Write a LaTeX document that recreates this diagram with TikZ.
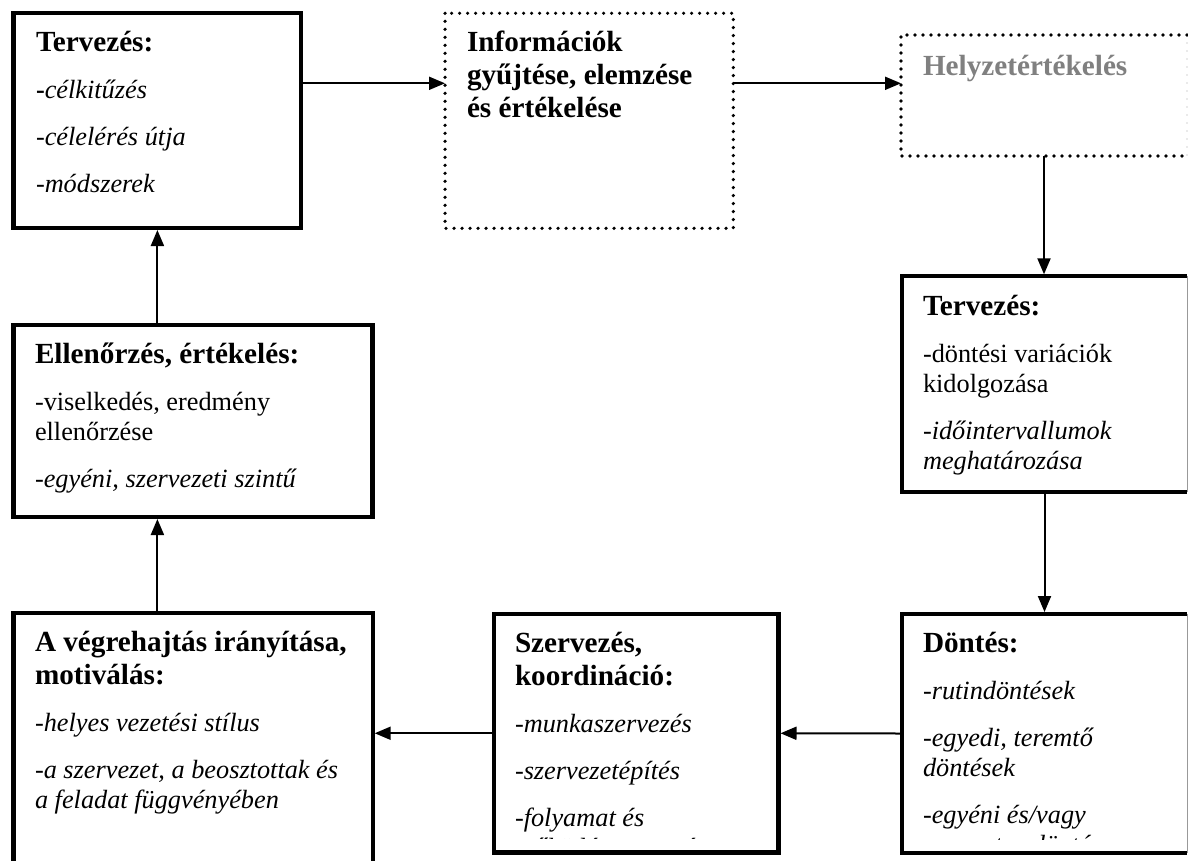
\documentclass[tikz,border=0pt]{standalone}
\usepackage{fontspec}
\setmainfont{Liberation Serif}
\usetikzlibrary{arrows.meta,calc}

% type sizes: bold headings and body lines
\newcommand\headfont{\fontsize{29.2}{33}\selectfont\bfseries}
\newcommand\bodyfont{\fontsize{26.3}{30}\selectfont}
\newcommand\hdline[1]{{\headfont #1\par}}
\newenvironment{boxtext}{\begin{minipage}[t]{330pt}\raggedright\setlength\parskip{17pt}\bodyfont}{\end{minipage}}

\tikzset{
  box/.style={rectangle, draw=none, inner sep=0pt, outer sep=0pt},
  frame/.style={line width=4.2pt, line join=miter},
  dotframe/.style={line width=3.6pt, line cap=round, dash pattern=on 0pt off 8pt},
  cutedge/.style={line width=1pt, draw=black!40},
  cutdots/.style={line width=1.2pt, draw=black!35, line cap=round, dash pattern=on 0pt off 8pt},
  conn/.style={line width=2pt, -{Triangle[length=16pt,width=13pt]}},
  txt/.style={anchor=base west, inner sep=0pt, outer sep=0pt},
}

\begin{document}
\begin{tikzpicture}[x=1pt,y=-1pt]
\useasboundingbox (0,0) rectangle (1188,860);
\clip (0,0) rectangle (1188,860);
\fill[white] (0,0) rectangle (1188,860);

% ---- boxes (borders drawn on the node outlines) ----
\node[box, minimum width=287.8pt, minimum height=215.3pt] (plan)   at (157.4,120.35) {};
\node[box, minimum width=288.3pt, minimum height=215pt]   (info)   at (589.15,120.8) {};
\node[box, minimum width=286pt,   minimum height=121pt]   (situ)   at (1044,95.5) {};
\node[box, minimum width=285pt,   minimum height=215.4pt] (plantwo) at (1044.5,384) {};
\node[box, minimum width=285pt,   minimum height=239pt]   (decide) at (1044.5,733.5) {};
\node[box, minimum width=284.8pt, minimum height=238.5pt] (org)    at (636.1,733.25) {};
\node[box, minimum width=359.2pt, minimum height=267.3pt] (lead)   at (193.1,746.35) {};
\node[box, minimum width=359pt,   minimum height=191.7pt] (ctrl)   at (193,421.15) {};

\draw[frame] (plan.north west) rectangle (plan.south east);
\draw[frame] (ctrl.north west) rectangle (ctrl.south east);
\draw[frame] (org.north west) rectangle (org.south east);
\draw[frame] (lead.south west) -- (lead.north west) -- (lead.north east) -- (lead.south east);
\draw[dotframe] (info.north west) rectangle (info.south east);

\draw[cutdots] (situ.north east) -- (situ.south east);
\draw[dotframe] (situ.north east) -- (situ.north west) -- (situ.south west) -- (situ.south east);

\draw[cutedge] (plantwo.north east) -- (plantwo.south east);
\draw[frame] (plantwo.north east) -- (plantwo.north west) -- (plantwo.south west) -- (plantwo.south east);
\draw[cutedge] (decide.north east) -- (decide.south east);
\draw[frame] (decide.north east) -- (decide.north west) -- (decide.south west) -- (decide.south east);

% ---- texts ----
\node[txt] (plantext) at ([xshift=22.5pt,yshift=-38.5pt]plan.north west) {\begin{boxtext}
\hdline{Tervezés:}
{\bfseries -}\textit{célkitűzés}\par
\textit{-célelérés útja}\par
\textit{-módszerek}\par
\end{boxtext}};

\node[txt] (infotext) at ([xshift=22pt,yshift=-38.5pt]info.north west) {\begin{boxtext}
\hdline{Információk\\gyűjtése, elemzése\\és értékelése}
\end{boxtext}};

\node[txt, text=black!50] (situtext) at ([xshift=22pt,yshift=-40pt]situ.north west) {\begin{boxtext}
\hdline{Helyzetértékelés}
\end{boxtext}};

\node[txt] (plantwotext) at ([xshift=21pt,yshift=-38.7pt]plantwo.north west) {\begin{boxtext}
\hdline{Tervezés:}
-döntési variációk\\kidolgozása\par
\textit{-időintervallumok\\meghatározása}\par
\end{boxtext}};

\begin{scope}
\clip (decide.north west) rectangle ([yshift=14pt]decide.south east);
\node[txt] (decidetext) at ([xshift=21pt,yshift=-38.5pt]decide.north west) {\begin{boxtext}
\hdline{Döntés:}
\textit{-rutindöntések}\par
\textit{-egyedi, teremtő\\döntések}\par
\textit{-egyéni és/vagy\\csoportos döntés}\par
\end{boxtext}};
\end{scope}

\begin{scope}
\clip (org.north west) rectangle ([yshift=14pt]org.south east);
\node[txt] (orgtext) at ([xshift=21.3pt,yshift=-38.5pt]org.north west) {\begin{boxtext}
\hdline{Szervezés,\\koordináció:}
\textit{-munkaszervezés}\par
\textit{-szervezetépítés}\par
\textit{-folyamat és\\működésszervezés}\par
\end{boxtext}};
\end{scope}

\node[txt] (leadtext) at ([xshift=21.5pt,yshift=-39pt]lead.north west) {\begin{boxtext}
\hdline{A végrehajtás irányítása,\\motiválás:}
\textit{-helyes vezetési stílus}\par
\textit{-a szervezet, a beosztottak és\\a feladat függvényében}\par
\end{boxtext}};

\node[txt] (ctrltext) at ([xshift=21.5pt,yshift=-38pt]ctrl.north west) {\begin{boxtext}
\hdline{Ellenőrzés, értékelés:}
-viselkedés, eredmény\\ellenőrzése\par
\textit{-egyéni, szervezeti szintű}\par
\end{boxtext}};

% ---- connectors ----
\coordinate (toprow) at ([yshift=-70.6pt]plan.north east);
\draw[conn] (toprow) -- (toprow -| info.west);
\draw[conn] (toprow -| info.east) -- (toprow -| situ.west);
\draw[conn, shorten >=2pt] (situ.south) -- (situ.south |- plantwo.north);
\draw[conn, shorten >=2pt] (plantwo.south) -- (decide.north);
\draw[conn, shorten >=2pt] (decide.west) -- (org.east);
\draw[conn, shorten >=2pt] (org.west) -- (org.west -| lead.east);
\draw[conn, shorten >=2pt] (lead.north -| plan.south) -- (ctrl.south -| plan.south);
\draw[conn, shorten >=2pt] (ctrl.north -| plan.south) -- (plan.south);
\end{tikzpicture}
\end{document}
